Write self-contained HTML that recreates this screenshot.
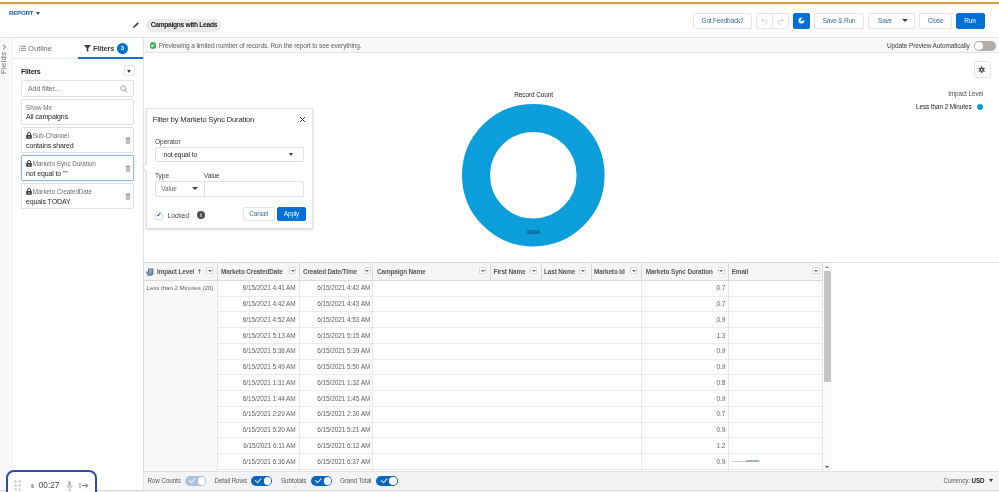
<!DOCTYPE html>
<html lang="en">
<head>
<meta charset="utf-8">
<title>Campaigns with Leads - Report Builder</title>
<style>
*{box-sizing:border-box;margin:0;padding:0}
html,body{width:999px;height:492px;overflow:hidden;background:#fff}
body{font-family:"Liberation Sans",sans-serif;font-size:6.8px;color:#3e3e3c;position:relative;line-height:1}
.abs{position:absolute}
.t{position:absolute;white-space:nowrap;line-height:1}
.btn{position:absolute;top:13px;height:16px;border:1px solid #e6e5e4;border-radius:2px;background:#fff;color:#3a6da3;font-size:6.5px;letter-spacing:-0.2px;line-height:14px;text-align:center;white-space:nowrap}
.btn.brand{background:#0070d2;border-color:#0070d2;color:#fff}
.fbox{position:absolute;left:21px;width:113px;border:1px solid #e2e1e0;border-radius:2px;background:#fff}
.fbox .l1{position:absolute;left:4px;top:4.6px;font-size:6.3px;color:#706e6b;white-space:nowrap;letter-spacing:-0.05px}
.fbox .l2{position:absolute;left:4px;top:13.7px;font-size:7px;color:#2b2826;white-space:nowrap;letter-spacing:-0.12px}
.lock{position:absolute;left:4px;top:3.5px;width:6px;height:7px}
.trash{position:absolute;left:103px;top:8.5px;width:6px;height:7px}
.hd{position:absolute;top:6px;font-weight:bold;font-size:6.4px;letter-spacing:-0.12px;color:#5a5856;line-height:1;white-space:nowrap}
.dd{position:absolute;top:4.6px;width:7.4px;height:7.4px;border:1px solid #dad9d8;border-radius:1px;background:#fff}
.dd:after{content:"";position:absolute;left:0.7px;top:1.6px;border-left:2px solid transparent;border-right:2px solid transparent;border-top:2.6px solid #6a6866}
.c{position:absolute;font-size:6.5px;letter-spacing:-0.1px;color:#666462;white-space:nowrap;text-align:right}
.tog{position:absolute;top:476px;width:21.5px;height:9.5px;border-radius:5px;background:#0b66c2}
.tog:after{content:"";position:absolute;right:1px;top:1px;width:7.5px;height:7.5px;border-radius:50%;background:#fff}
.tog:before{content:"";position:absolute;left:4.5px;top:2px;width:4.5px;height:2.5px;border-left:1.2px solid #fff;border-bottom:1.2px solid #fff;transform:rotate(-48deg)}
.tog.dis{background:#a9c3dc}
</style>
</head>
<body>
<!-- top orange line -->
<div class="abs" style="left:0;top:0;width:999px;height:2px;background:#fffcf5"></div>
<div class="abs" style="left:0;top:2px;width:999px;height:2px;background:#dd9a42"></div>
<div class="abs" style="left:0;top:4px;width:999px;height:1px;background:#fdf3e4"></div>

<!-- header -->
<div class="abs" id="hdr" style="left:0;top:5px;width:999px;height:33px;background:#fff;border-bottom:1px solid #e2e1e0"></div>
<div class="t" style="left:9px;top:10px;font-size:6.2px;font-weight:bold;color:#1f5fa8;letter-spacing:-0.25px">REPORT</div>
<div class="abs" style="left:35.7px;top:11.8px;border-left:2.6px solid transparent;border-right:2.6px solid transparent;border-top:3.3px solid #3a4a6a"></div>
<svg class="abs" style="left:132px;top:21px" width="8" height="8" viewBox="0 0 8 8"><path d="M1 7 L1.4 5.4 L5.6 1.2 L6.8 2.4 L2.6 6.6 Z" fill="#3e3e3c"/></svg>
<div class="abs" style="left:146px;top:18.5px;width:75px;height:13px;border-radius:6.5px;background:#ecebea"></div>
<div class="t" style="left:150.7px;top:22.4px;font-size:6.7px;font-weight:bold;color:#181818;letter-spacing:-0.3px">Campaigns with Leads</div>

<div class="btn" style="left:693px;width:59px">Got Feedback?</div>
<div class="btn" style="left:756px;width:33px"></div>
<div class="abs" style="left:772px;top:13px;width:1px;height:16px;background:#e6e5e4"></div>
<svg class="abs" style="left:760px;top:17px" width="9" height="8" viewBox="0 0 9 8"><path d="M2 3.2 H5.2 A2 2 0 0 1 5.2 7.2 H4" fill="none" stroke="#d4d2d0" stroke-width="1"/><path d="M3.4 1.4 L1.4 3.2 L3.4 5" fill="none" stroke="#d4d2d0" stroke-width="1"/></svg>
<svg class="abs" style="left:776px;top:17px" width="9" height="8" viewBox="0 0 9 8"><path d="M7 3.2 H3.8 A2 2 0 0 0 3.8 7.2 H5" fill="none" stroke="#d4d2d0" stroke-width="1"/><path d="M5.6 1.4 L7.6 3.2 L5.6 5" fill="none" stroke="#d4d2d0" stroke-width="1"/></svg>
<div class="btn brand" style="left:793.2px;width:16.8px"></div>
<svg class="abs" style="left:798.2px;top:17.2px" width="7" height="7" viewBox="0 0 7 7"><circle cx="3.5" cy="3.5" r="3" fill="#fff"/><path d="M3.5 3.5 L3.5 0.5 A3 3 0 0 1 6.5 3.5 Z" fill="#0070d2"/><circle cx="3.5" cy="3.5" r="1" fill="#0070d2"/></svg>
<div class="btn" style="left:814px;width:50px">Save &amp; Run</div>
<div class="btn" style="left:868px;width:47px;text-align:left;padding-left:9px">Save</div>
<div class="abs" style="left:902.3px;top:18.9px;border-left:3px solid transparent;border-right:3px solid transparent;border-top:3.6px solid #3e3e3c"></div>
<div class="btn" style="left:919px;width:33px">Close</div>
<div class="btn brand" style="left:955.5px;width:29px">Run</div>

<!-- left rail -->
<div class="abs" style="left:0;top:38px;width:13px;height:452px;background:#f8f8f8;border-right:1px solid #efefef"></div>
<svg class="abs" style="left:2.3px;top:43.7px" width="5" height="6" viewBox="0 0 5 6"><path d="M1.2 0.8 L3.6 3 L1.2 5.2" fill="none" stroke="#514f4d" stroke-width="0.9"/></svg>
<div class="t" style="left:-6.6px;top:59.3px;font-size:7.7px;color:#706e6b;transform:rotate(-90deg);transform-origin:center;letter-spacing:0.3px">Fields</div>

<!-- left panel -->
<div class="abs" style="left:13px;top:38px;width:130.5px;height:452px;background:#fff;border-right:1px solid #e2e1e0"></div>
<div class="abs" style="left:13px;top:57.5px;width:130px;height:1px;background:#e9e8e7"></div>
<svg class="abs" style="left:19px;top:44.5px" width="7" height="7" viewBox="0 0 7 7"><path d="M0 1.2h1M1.8 1.2h5.2M0 3.3h1M1.8 3.3h5.2M0 5.4h1M1.8 5.4h5.2" stroke="#706e6b" stroke-width="0.8"/></svg>
<div class="t" style="left:28px;top:44.5px;font-size:7.6px;color:#706e6b">Outline</div>
<svg class="abs" style="left:84px;top:44.5px" width="7" height="7" viewBox="0 0 7 7"><path d="M0 0 H7 L4.3 3.2 V7 L2.7 6 V3.2 Z" fill="#3e3e3c"/></svg>
<div class="t" style="left:93px;top:44.5px;font-size:7.4px;font-weight:bold;color:#3e3e3c;letter-spacing:-0.15px">Filters</div>
<div class="abs" style="left:117px;top:42.5px;width:11px;height:11px;border-radius:50%;background:#0070d2"></div>
<div class="t" style="left:120.8px;top:45px;font-size:6px;color:#fff;font-weight:bold">3</div>
<div class="abs" style="left:78px;top:56.5px;width:65px;height:2px;background:#1b6fc9"></div>

<div class="t" style="left:21px;top:68.7px;font-size:7.1px;font-weight:bold;color:#2b2826;letter-spacing:-0.25px">Filters</div>
<div class="abs" style="left:123.5px;top:65px;width:11px;height:11px;border:1px solid #e8e7e6;border-radius:2px;background:#fff"></div>
<div class="abs" style="left:126.5px;top:69.5px;border-left:2.5px solid transparent;border-right:2.5px solid transparent;border-top:3px solid #3e3e3c"></div>

<div class="fbox" style="top:79.8px;height:17.3px"></div>
<div class="t" style="left:28px;top:84.6px;font-size:7px;letter-spacing:-0.08px;color:#706e6b">Add filter...</div>
<svg class="abs" style="left:120.4px;top:84.5px" width="8" height="8" viewBox="0 0 8 8"><circle cx="3.2" cy="3.2" r="2.4" fill="none" stroke="#9a9896" stroke-width="0.9"/><path d="M5 5 L7.3 7.3" stroke="#9a9896" stroke-width="0.9"/></svg>

<div class="fbox" style="top:99px;height:25.8px"><span class="l1" style="top:5px">Show Me</span><span class="l2" style="top:13.3px">All campaigns</span></div>
<div class="fbox" style="top:127px;height:25.5px"><svg class="lock" viewBox="0 0 6 7"><path d="M1.3 3.2 V2.2 A1.7 1.7 0 0 1 4.7 2.2 V3.2" fill="none" stroke="#3e3e3c" stroke-width="1"/><rect x="0.2" y="3" width="5.6" height="3.8" rx="0.6" fill="#3e3e3c"/><rect x="2.5" y="4.2" width="1" height="1.4" fill="#fff"/></svg><svg class="trash" viewBox="0 0 6 7"><path d="M0.3 1.5 H5.7 M2 1.2 V0.5 H4 V1.2" fill="none" stroke="#9a9896" stroke-width="0.8"/><path d="M0.9 2.3 H5.1 V6.7 H0.9 Z" fill="#a8a6a4"/><path d="M2.2 3 V6 M3.8 3 V6" stroke="#fff" stroke-width="0.5"/></svg><span class="l1" style="left:10.7px">Sub-Channel</span><span class="l2">contains shared</span></div>
<div class="fbox" style="top:155px;height:26px;border-color:#94b9d9;box-shadow:0 0 2px #b0cfe9"><svg class="lock" viewBox="0 0 6 7"><path d="M1.3 3.2 V2.2 A1.7 1.7 0 0 1 4.7 2.2 V3.2" fill="none" stroke="#3e3e3c" stroke-width="1"/><rect x="0.2" y="3" width="5.6" height="3.8" rx="0.6" fill="#3e3e3c"/><rect x="2.5" y="4.2" width="1" height="1.4" fill="#fff"/></svg><svg class="trash" viewBox="0 0 6 7"><path d="M0.3 1.5 H5.7 M2 1.2 V0.5 H4 V1.2" fill="none" stroke="#9a9896" stroke-width="0.8"/><path d="M0.9 2.3 H5.1 V6.7 H0.9 Z" fill="#a8a6a4"/><path d="M2.2 3 V6 M3.8 3 V6" stroke="#fff" stroke-width="0.5"/></svg><span class="l1" style="left:10.7px">Marketo Sync Duration</span><span class="l2">not equal to ""</span></div>
<div class="fbox" style="top:183.3px;height:25.5px"><svg class="lock" viewBox="0 0 6 7"><path d="M1.3 3.2 V2.2 A1.7 1.7 0 0 1 4.7 2.2 V3.2" fill="none" stroke="#3e3e3c" stroke-width="1"/><rect x="0.2" y="3" width="5.6" height="3.8" rx="0.6" fill="#3e3e3c"/><rect x="2.5" y="4.2" width="1" height="1.4" fill="#fff"/></svg><svg class="trash" viewBox="0 0 6 7"><path d="M0.3 1.5 H5.7 M2 1.2 V0.5 H4 V1.2" fill="none" stroke="#9a9896" stroke-width="0.8"/><path d="M0.9 2.3 H5.1 V6.7 H0.9 Z" fill="#a8a6a4"/><path d="M2.2 3 V6 M3.8 3 V6" stroke="#fff" stroke-width="0.5"/></svg><span class="l1" style="left:10.7px">Marketo CreatedDate</span><span class="l2">equals TODAY</span></div>

<!-- info bar -->
<div class="abs" style="left:144px;top:38px;width:855px;height:14.5px;background:#f8f8fa;border-bottom:1px solid #e6e5e4"></div>
<div class="abs" style="left:149.8px;top:42.3px;width:6.6px;height:6.6px;border-radius:50%;background:#3aad55"></div>
<div class="abs" style="left:151.4px;top:44px;width:3.4px;height:2px;border-left:0.9px solid #fff;border-bottom:0.9px solid #fff;transform:rotate(-48deg)"></div>
<div class="t" style="left:158.8px;top:42.8px;font-size:6.6px;letter-spacing:-0.15px;color:#666462">Previewing a limited number of records. Run the report to see everything.</div>
<div class="t" style="left:887px;top:43px;font-size:6.5px;letter-spacing:-0.12px;color:#3e3e3c">Update Preview Automatically</div>
<div class="abs" style="left:974px;top:41px;width:21.5px;height:9.5px;border-radius:5px;background:#b0adab"></div>
<div class="abs" style="left:975px;top:42px;width:7.5px;height:7.5px;border-radius:50%;background:#fff"></div>

<!-- chart area -->
<div class="abs" style="left:974px;top:61.3px;width:16.5px;height:17px;border:1px solid #e6e5e4;border-radius:2px;background:#fff"></div>
<svg class="abs" style="left:978.4px;top:66.2px" width="7.4" height="7.4" viewBox="0 0 8 8"><g stroke="#3e3e3c" stroke-width="1.3"><path d="M4 0.3V7.7M0.8 2.15L7.2 5.85M0.8 5.85L7.2 2.15"/></g><circle cx="4" cy="4" r="2.3" fill="#3e3e3c"/><circle cx="4" cy="4" r="1.1" fill="#fff"/></svg>
<div class="t" style="left:514.2px;top:91.8px;font-size:6.4px;letter-spacing:-0.05px;color:#222">Record Count</div>
<svg class="abs" style="left:458px;top:100px" width="150" height="150" viewBox="458 100 150 150"><circle cx="533.3" cy="175.2" r="57.3" fill="none" stroke="#0c9ddb" stroke-width="28"/></svg>
<div class="t" style="left:526.5px;top:229.5px;font-size:5.4px;color:#12303f">100%</div>
<div class="t" style="right:15.7px;top:90.8px;font-size:6.3px;letter-spacing:-0.05px;color:#514f4d">Impact Level</div>
<div class="t" style="right:27.5px;top:103.8px;font-size:6.3px;letter-spacing:-0.05px;color:#222">Less than 2 Minutes</div>
<div class="abs" style="left:977px;top:103.8px;width:6.3px;height:6.3px;border-radius:50%;background:#0c9ddb"></div>

<!-- popover -->
<div class="abs" style="left:146px;top:108px;width:166.5px;height:120.6px;background:#fff;border:1px solid #e2e1e0;border-radius:2px;box-shadow:0 1px 3px rgba(0,0,0,.16)"></div>
<div class="abs" style="left:143px;top:164px;width:7px;height:7px;background:#fff;border-left:1px solid #dddbda;border-bottom:1px solid #dddbda;transform:rotate(45deg)"></div>
<div class="t" style="left:152.8px;top:116px;font-size:7.5px;letter-spacing:-0.12px;color:#2b2826">Filter by Marketo Sync Duration</div>
<svg class="abs" style="left:298.5px;top:115.5px" width="7" height="7" viewBox="0 0 7 7"><path d="M1 1 L6 6 M6 1 L1 6" stroke="#3e3e3c" stroke-width="1"/></svg>
<div class="t" style="left:155px;top:138.5px;font-size:6.5px;color:#3e3e3c">Operator</div>
<div class="abs" style="left:155px;top:147px;width:149px;height:15px;border:1px solid #e2e1e0;border-radius:2px;background:#fff"></div>
<div class="t" style="left:163.7px;top:151.8px;font-size:6.6px;letter-spacing:-0.1px;color:#2b2826">not equal to</div>
<div class="abs" style="left:289.3px;top:152.8px;border-left:2.8px solid transparent;border-right:2.8px solid transparent;border-top:3.4px solid #3e3e3c"></div>
<div class="t" style="left:155px;top:172.8px;font-size:6.5px;color:#3e3e3c">Type</div>
<div class="t" style="left:204px;top:172.8px;font-size:6.4px;letter-spacing:-0.1px;color:#3e3e3c">Value</div>
<div class="abs" style="left:155px;top:180.5px;width:149px;height:16px;border:1px solid #e2e1e0;border-radius:2px;background:#fff"></div>
<div class="abs" style="left:203.5px;top:180.5px;width:1px;height:16px;background:#e2e1e0"></div>
<div class="t" style="left:161.3px;top:186px;font-size:6.4px;letter-spacing:-0.1px;color:#706e6b">Value</div>
<div class="abs" style="left:191.5px;top:187px;border-left:3px solid transparent;border-right:3px solid transparent;border-top:3.6px solid #3e3e3c"></div>
<div class="abs" style="left:155px;top:211.5px;width:8px;height:8px;border:1px solid #dddbda;border-radius:1.5px;background:#fff"></div>
<div class="abs" style="left:157px;top:213px;width:4.2px;height:2.4px;border-left:1.1px solid #0070d2;border-bottom:1.1px solid #0070d2;transform:rotate(-48deg)"></div>
<div class="t" style="left:167.5px;top:213.2px;font-size:6.9px;letter-spacing:-0.12px;color:#514f4d">Locked</div>
<div class="abs" style="left:197px;top:211.2px;width:8px;height:8px;border-radius:50%;background:#514f4d"></div>
<div class="t" style="left:200.2px;top:212.7px;font-size:5.2px;color:#fff;font-weight:bold">i</div>
<div class="btn" style="left:243px;top:207.2px;width:31.5px;height:13.8px;line-height:11.8px">Cancel</div>
<div class="btn brand" style="left:277px;top:207.2px;width:29px;height:13.8px;line-height:11.8px">Apply</div>

<div class="abs" style="left:144px;top:261.5px;width:855px;height:1px;background:#e4e4e4"></div>
<!-- table -->
<div class="abs" style="left:143px;top:261.5px;width:689px;height:209.5px;background:#fff;border-top:1px solid #d8d8d8;overflow:hidden">
<div class="abs" style="left:0;top:0;width:679px;height:18.3px;background:#f5f5f5;border-bottom:1px solid #dadada"></div>
<div class="abs" style="left:0;top:18.3px;width:74.4px;height:200px;background:#f9f9f9"></div>
<div class="abs" style="left:74.4px;top:33.05px;width:604.6px;height:1px;background:#ececec"></div>
<div class="abs" style="left:74.4px;top:48.80px;width:604.6px;height:1px;background:#ececec"></div>
<div class="abs" style="left:74.4px;top:64.55px;width:604.6px;height:1px;background:#ececec"></div>
<div class="abs" style="left:74.4px;top:80.30px;width:604.6px;height:1px;background:#ececec"></div>
<div class="abs" style="left:74.4px;top:96.05px;width:604.6px;height:1px;background:#ececec"></div>
<div class="abs" style="left:74.4px;top:111.80px;width:604.6px;height:1px;background:#ececec"></div>
<div class="abs" style="left:74.4px;top:127.55px;width:604.6px;height:1px;background:#ececec"></div>
<div class="abs" style="left:74.4px;top:143.30px;width:604.6px;height:1px;background:#ececec"></div>
<div class="abs" style="left:74.4px;top:159.05px;width:604.6px;height:1px;background:#ececec"></div>
<div class="abs" style="left:74.4px;top:174.80px;width:604.6px;height:1px;background:#ececec"></div>
<div class="abs" style="left:74.4px;top:190.55px;width:604.6px;height:1px;background:#ececec"></div>
<div class="abs" style="left:74.4px;top:206.30px;width:604.6px;height:1px;background:#ececec"></div>
<div class="abs" style="left:73.9px;top:0;width:1px;height:18.3px;background:#d9d9d9"></div>
<div class="abs" style="left:73.9px;top:18.3px;width:1px;height:200px;background:#e8e8e8"></div>
<div class="abs" style="left:156.10000000000002px;top:0;width:1px;height:18.3px;background:#d9d9d9"></div>
<div class="abs" style="left:156.10000000000002px;top:18.3px;width:1px;height:200px;background:#e8e8e8"></div>
<div class="abs" style="left:229.0px;top:0;width:1px;height:18.3px;background:#d9d9d9"></div>
<div class="abs" style="left:229.0px;top:18.3px;width:1px;height:200px;background:#e8e8e8"></div>
<div class="abs" style="left:346.5px;top:0;width:1px;height:18.3px;background:#d9d9d9"></div>
<div class="abs" style="left:397.5px;top:0;width:1px;height:18.3px;background:#d9d9d9"></div>
<div class="abs" style="left:447.5px;top:0;width:1px;height:18.3px;background:#d9d9d9"></div>
<div class="abs" style="left:498.20000000000005px;top:0;width:1px;height:18.3px;background:#d9d9d9"></div>
<div class="abs" style="left:498.20000000000005px;top:18.3px;width:1px;height:200px;background:#e8e8e8"></div>
<div class="abs" style="left:585.0px;top:0;width:1px;height:18.3px;background:#d9d9d9"></div>
<div class="abs" style="left:585.0px;top:18.3px;width:1px;height:200px;background:#e8e8e8"></div>
<div class="abs" style="left:678.5px;top:0;width:1px;height:18.3px;background:#d9d9d9"></div>
<div class="abs" style="left:678.5px;top:18.3px;width:1px;height:200px;background:#e8e8e8"></div>
<div class="abs" style="left:0;top:0;width:1px;height:220px;background:#dcdcdc"></div>
<div class="hd" style="left:14px">Impact Level</div>
<div class="dd" style="left:63px"></div>
<div class="hd" style="left:78px">Marketo CreatedDate</div>
<div class="dd" style="left:146px"></div>
<div class="hd" style="left:160px">Created Date/Time</div>
<div class="dd" style="left:220.5px"></div>
<div class="hd" style="left:234px">Campaign Name</div>
<div class="dd" style="left:336px"></div>
<div class="hd" style="left:350.6px">First Name</div>
<div class="dd" style="left:387px"></div>
<div class="hd" style="left:401px">Last Name</div>
<div class="dd" style="left:436px"></div>
<div class="hd" style="left:451px">Marketo Id</div>
<div class="dd" style="left:487px"></div>
<div class="hd" style="left:502.70000000000005px">Marketo Sync Duration</div>
<div class="dd" style="left:574.5px"></div>
<div class="hd" style="left:588.7px">Email</div>
<div class="dd" style="left:669.3px"></div>
<svg class="abs" style="left:3.3000000000000114px;top:5px" width="8" height="8.5" viewBox="0 0 8 8.5"><path d="M2 0.6 H7.4 V6 L6 7.8 H1.2 V5.6 H0.3 V3.4 H2 Z" fill="#5d7b9c"/><path d="M3 2.2 H6 M3 4 H6" stroke="#c6d3e2" stroke-width="0.8"/><path d="M1.2 5.6 H4.4 V7.8" fill="none" stroke="#9fb4cc" stroke-width="0.7"/></svg>
<div class="t" style="left:53.80000000000001px;top:6.2px;font-size:6.4px;color:#514f4d;font-family:'DejaVu Sans',sans-serif">&#8593;</div>
<div class="t" style="left:3.5px;top:22.5px;font-size:6.2px;letter-spacing:-0.06px;color:#6a6866">Less than 2 Minutes (20)</div>
<div class="c" style="right:536.4px;top:22.90px">6/15/2021 4:41 AM</div>
<div class="c" style="right:461.8px;top:22.90px">6/15/2021 4:42 AM</div>
<div class="c" style="right:106.79999999999995px;top:22.90px">0.7</div>
<div class="c" style="right:536.4px;top:38.65px">6/15/2021 4:42 AM</div>
<div class="c" style="right:461.8px;top:38.65px">6/15/2021 4:43 AM</div>
<div class="c" style="right:106.79999999999995px;top:38.65px">0.7</div>
<div class="c" style="right:536.4px;top:54.40px">6/15/2021 4:52 AM</div>
<div class="c" style="right:461.8px;top:54.40px">6/15/2021 4:53 AM</div>
<div class="c" style="right:106.79999999999995px;top:54.40px">0.9</div>
<div class="c" style="right:536.4px;top:70.15px">6/15/2021 5:13 AM</div>
<div class="c" style="right:461.8px;top:70.15px">6/15/2021 5:15 AM</div>
<div class="c" style="right:106.79999999999995px;top:70.15px">1.3</div>
<div class="c" style="right:536.4px;top:85.90px">6/15/2021 5:38 AM</div>
<div class="c" style="right:461.8px;top:85.90px">6/15/2021 5:39 AM</div>
<div class="c" style="right:106.79999999999995px;top:85.90px">0.9</div>
<div class="c" style="right:536.4px;top:101.65px">6/15/2021 5:49 AM</div>
<div class="c" style="right:461.8px;top:101.65px">6/15/2021 5:50 AM</div>
<div class="c" style="right:106.79999999999995px;top:101.65px">0.9</div>
<div class="c" style="right:536.4px;top:117.40px">6/15/2021 1:31 AM</div>
<div class="c" style="right:461.8px;top:117.40px">6/15/2021 1:32 AM</div>
<div class="c" style="right:106.79999999999995px;top:117.40px">0.8</div>
<div class="c" style="right:536.4px;top:133.15px">6/15/2021 1:44 AM</div>
<div class="c" style="right:461.8px;top:133.15px">6/15/2021 1:45 AM</div>
<div class="c" style="right:106.79999999999995px;top:133.15px">0.9</div>
<div class="c" style="right:536.4px;top:148.90px">6/15/2021 2:29 AM</div>
<div class="c" style="right:461.8px;top:148.90px">6/15/2021 2:30 AM</div>
<div class="c" style="right:106.79999999999995px;top:148.90px">0.7</div>
<div class="c" style="right:536.4px;top:164.65px">6/15/2021 5:20 AM</div>
<div class="c" style="right:461.8px;top:164.65px">6/15/2021 5:21 AM</div>
<div class="c" style="right:106.79999999999995px;top:164.65px">0.9</div>
<div class="c" style="right:536.4px;top:180.40px">6/15/2021 6:11 AM</div>
<div class="c" style="right:461.8px;top:180.40px">6/15/2021 6:12 AM</div>
<div class="c" style="right:106.79999999999995px;top:180.40px">1.2</div>
<div class="c" style="right:536.4px;top:196.15px">6/15/2021 6:36 AM</div>
<div class="c" style="right:461.8px;top:196.15px">6/15/2021 6:37 AM</div>
<div class="c" style="right:106.79999999999995px;top:196.15px">0.9</div>
<div class="abs" style="left:680px;top:0;width:9px;height:210px;background:#fafafa"></div>
<div class="abs" style="left:681px;top:8.5px;width:7px;height:111px;background:#c4c4c4"></div>
<div class="abs" style="left:682.3px;top:3px;border-left:2.2px solid transparent;border-right:2.2px solid transparent;border-bottom:2.6px solid #8a8a8a"></div>
<div class="abs" style="left:682.3px;top:203.5px;border-left:2.2px solid transparent;border-right:2.2px solid transparent;border-top:2.6px solid #505050"></div>
<div class="abs" style="left:589px;top:198.2px;width:28px;height:1px;background:#c9ced6"></div>
<div class="abs" style="left:603px;top:197.8px;width:13px;height:2px;background:#aab2be"></div>
</div>

<!-- footer -->
<div class="abs" style="left:144px;top:471px;width:855px;height:19px;background:#f4f4f6;border-top:1px solid #e3e2e1"></div>
<div class="abs" style="left:0;top:489.5px;width:999px;height:1px;background:#d4d4d4"></div>
<div class="abs" style="left:0;top:490.5px;width:999px;height:2px;background:#f6f6f6"></div>
<div class="t" style="left:147.5px;top:477.6px;font-size:6.3px;letter-spacing:-0.1px;color:#5c5a58">Row Counts</div>
<div class="tog dis" style="left:184.5px"></div>
<div class="t" style="left:214.5px;top:477.6px;font-size:6.3px;letter-spacing:-0.1px;color:#5c5a58">Detail Rows</div>
<div class="tog" style="left:250.5px"></div>
<div class="t" style="left:281px;top:477.6px;font-size:6.3px;letter-spacing:-0.1px;color:#5c5a58">Subtotals</div>
<div class="tog" style="left:310.5px"></div>
<div class="t" style="left:340px;top:477.6px;font-size:6.3px;letter-spacing:-0.1px;color:#5c5a58">Grand Total</div>
<div class="tog" style="left:376px"></div>
<div class="t" style="left:943.5px;top:477.6px;font-size:6.3px;letter-spacing:-0.1px;color:#5c5a58">Currency: <b style="color:#2b2826">USD</b></div>
<div class="abs" style="left:989px;top:479px;border-left:2.8px solid transparent;border-right:2.8px solid transparent;border-top:3.4px solid #3e3e3c"></div>

<!-- recorder widget -->
<div class="abs" style="left:6px;top:469.5px;width:90.5px;height:30px;border:2px solid #3349ad;border-radius:8px;background:#fff"></div>
<svg class="abs" style="left:13.5px;top:480.3px" width="8" height="12" viewBox="0 0 8 12"><g fill="#cbcbcb"><circle cx="1.6" cy="1.5" r="1.3"/><circle cx="5.8" cy="1.5" r="1.3"/><circle cx="1.6" cy="5.5" r="1.3"/><circle cx="5.8" cy="5.5" r="1.3"/><circle cx="1.6" cy="9.5" r="1.3"/><circle cx="5.8" cy="9.5" r="1.3"/></g></svg>
<div class="abs" style="left:30.5px;top:484.3px;width:3.4px;height:3.4px;border-radius:50%;background:#a8a8a8"></div>
<div class="t" style="left:38.8px;top:481.6px;font-size:8.2px;color:#4a4a4a">00:27</div>
<svg class="abs" style="left:66px;top:480.8px" width="7" height="10" viewBox="0 0 7 10"><rect x="2.2" y="0.3" width="2.6" height="5.4" rx="1.3" fill="#b4b4b4"/><path d="M0.8 4.3 A2.7 2.7 0 0 0 6.2 4.3 M3.5 7 V9 M2 9.2 H5" fill="none" stroke="#b4b4b4" stroke-width="0.8"/></svg>
<svg class="abs" style="left:78.5px;top:482.4px" width="10" height="7" viewBox="0 0 10 7"><path d="M1 0.8 V6.2" stroke="#8a8a8a" stroke-width="0.9"/><path d="M3.2 3.5 H8.8 M6.6 1.2 L8.9 3.5 L6.6 5.8" fill="none" stroke="#6a6a6a" stroke-width="0.9"/></svg>
</body>
</html>
